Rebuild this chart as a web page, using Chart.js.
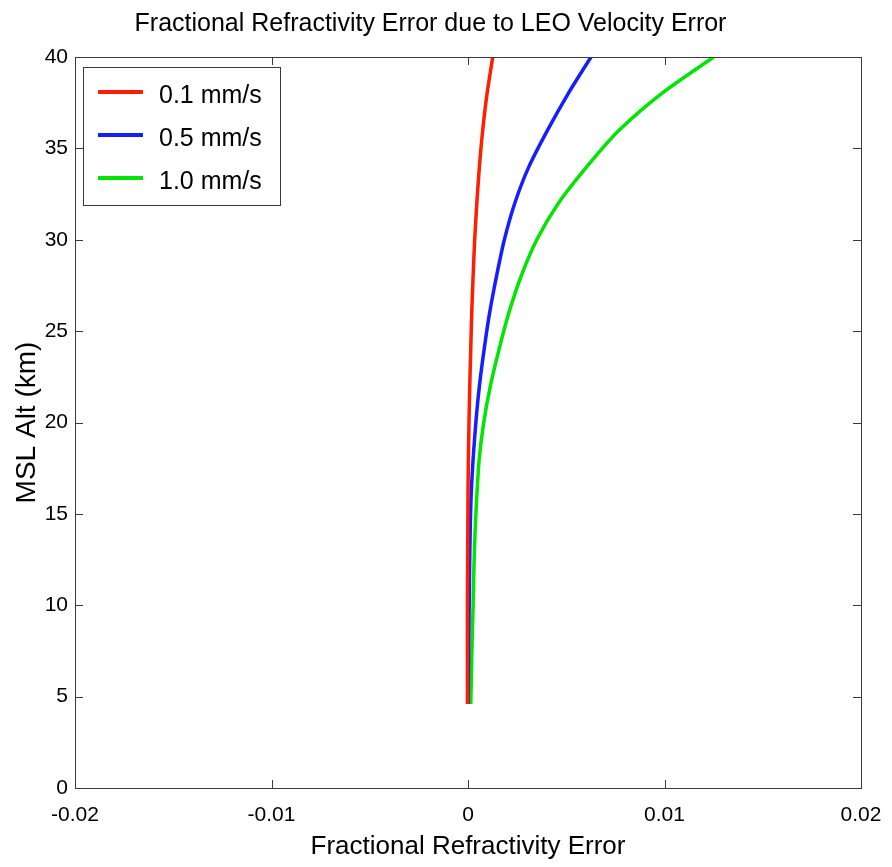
<!DOCTYPE html>
<html>
<head>
<meta charset="utf-8">
<script src="https://cdn.jsdelivr.net/npm/chart.js@4.4.1/dist/chart.umd.min.js"></script>
<style>
  body { margin: 0; background: #fff; }
  #myChart { display: block; }
</style>
</head>
<body>
<canvas id="myChart" width="892" height="867"></canvas>
<script>
//Chart Data
var altitudes = [4.6, 6, 8, 10, 12, 14, 16, 18, 20, 22, 24, 26, 28, 30, 32, 34, 36, 38, 40];
var err01 = [-0.00003, -0.00003, -0.00003, -0.00003, -0.00002, -0.00001, 0.00000, 0.00002, 0.00005, 0.00009, 0.00014, 0.00019, 0.00026, 0.00034, 0.00045, 0.00058, 0.00075, 0.00097, 0.00126];
var err05 = [0.00000, 0.00002, 0.00004, 0.00006, 0.00008, 0.00011, 0.00016, 0.00026, 0.00040, 0.00058, 0.00082, 0.00110, 0.00145, 0.00185, 0.00238, 0.00310, 0.00405, 0.00510, 0.00626];
var err10 = [0.00014, 0.00017, 0.00021, 0.00026, 0.00030, 0.00036, 0.00045, 0.00057, 0.00080, 0.00114, 0.00158, 0.00208, 0.00270, 0.00350, 0.00460, 0.00605, 0.00770, 0.00985, 0.01250];
var seriesLabels = ['0.1 mm/s', '0.5 mm/s', '1.0 mm/s'];
var seriesColors = ['rgb(255,30,0)', 'rgb(20,30,255)', 'rgb(0,230,0)'];

var sans = "'Liberation Sans', Arial, sans-serif";

//Build points from the arrays
function toPoints(vals) {
    return vals.map(function (v, i) { return { x: v, y: altitudes[i] }; });
}

//Draw box round the axes with inward ticks, like matlab
var frameTicks = {
    id: 'frameTicks',
    afterDraw(chart) {
        const ctx = chart.ctx;
        const a = chart.chartArea;
        const xs = chart.scales.x, ys = chart.scales.y;
        ctx.save();
        ctx.strokeStyle = '#3a3a3a';
        ctx.lineWidth = 1;
        ctx.strokeRect(Math.round(a.left) + 0.5, Math.round(a.top) + 0.5, Math.round(a.right - a.left), Math.round(a.bottom - a.top));
        ctx.beginPath();
        xs.ticks.forEach(function (t) {
            var px = Math.round(xs.getPixelForValue(t.value)) + 0.5;
            ctx.moveTo(px, a.bottom); ctx.lineTo(px, a.bottom - 8);
            ctx.moveTo(px, a.top); ctx.lineTo(px, a.top + 8);
        });
        ys.ticks.forEach(function (t) {
            var py = Math.round(ys.getPixelForValue(t.value)) + 0.5;
            ctx.moveTo(a.left, py); ctx.lineTo(a.left + 8, py);
            ctx.moveTo(a.right, py); ctx.lineTo(a.right - 8, py);
        });
        ctx.stroke();
        ctx.restore();
    }
};

//Legend box in the top left corner
var boxLegend = {
    id: 'boxLegend',
    afterDraw(chart) {
        const ctx = chart.ctx;
        const a = chart.chartArea;
        var bx = Math.round(a.left) + 8, by = Math.round(a.top) + 10;
        ctx.save();
        ctx.fillStyle = '#fff';
        ctx.fillRect(bx, by, 197, 138);
        ctx.strokeStyle = '#3a3a3a';
        ctx.lineWidth = 1;
        ctx.strokeRect(bx + 0.5, by + 0.5, 197, 138);
        chart.data.datasets.forEach(function (ds, i) {
            var ry = by + 25 + i * 43;
            ctx.strokeStyle = ds.borderColor;
            ctx.lineWidth = 4;
            ctx.beginPath();
            ctx.moveTo(bx + 15, ry); ctx.lineTo(bx + 60, ry);
            ctx.stroke();
            ctx.fillStyle = '#000';
            ctx.font = "25px " + sans;
            ctx.textBaseline = 'middle';
            ctx.textAlign = 'left';
            ctx.fillText(ds.label, bx + 76, ry + 4);
        });
        ctx.restore();
    }
};

const ctx = document.getElementById('myChart');
const myChart = new Chart(ctx, {
    type: 'scatter',
    data: {
        datasets: [{
            label: seriesLabels[0],
            borderColor: seriesColors[0],
            data: toPoints(err01)
        }, {
            label: seriesLabels[1],
            borderColor: seriesColors[1],
            data: toPoints(err05)
        }, {
            label: seriesLabels[2],
            borderColor: seriesColors[2],
            data: toPoints(err10)
        }]
    },
    options: {
        responsive: false,
        animation: false,
        layout: { padding: { left: 0, right: 31, top: 0, bottom: 0 } },
        datasets: {
            scatter: { showLine: true, pointRadius: 0, borderWidth: 3.5, tension: 0.25 }
        },
        plugins: {
            legend: { display: false },
            tooltip: { enabled: false },
            title: {
                display: true,
                text: 'Fractional Refractivity Error due to LEO Velocity Error',
                color: '#000',
                font: { family: sans, size: 25, weight: 'normal' },
                padding: { top: 9, bottom: 18 }
            }
        },
        scales: {
            x: {
                type: 'linear',
                min: -0.02,
                max: 0.02,
                grid: { display: false, drawTicks: false },
                border: { display: false },
                ticks: {
                    stepSize: 0.01,
                    color: '#000',
                    padding: 15,
                    font: { family: sans, size: 21 },
                    callback: function (v) { return String(Math.round(v * 100) / 100); }
                },
                title: {
                    display: true,
                    text: 'Fractional Refractivity Error',
                    color: '#000',
                    font: { family: sans, size: 26 },
                    padding: { top: 0, bottom: 5 }
                },
                afterFit(scale) {
                    scale.height = 79;
                    scale.paddingLeft = 0;
                    scale.paddingRight = 0;
                }
            },
            y: {
                type: 'linear',
                min: 0,
                max: 40,
                grid: { display: false, drawTicks: false },
                border: { display: false },
                ticks: {
                    stepSize: 5,
                    color: '#000',
                    padding: 7,
                    font: { family: sans, size: 21 }
                },
                title: {
                    display: true,
                    text: 'MSL Alt (km)',
                    color: '#000',
                    font: { family: sans, size: 28 },
                    padding: { top: 10, bottom: 0 }
                },
                afterFit(scale) { scale.width = 75; }
            }
        }
    },
    plugins: [frameTicks, boxLegend]
});
</script>
</body>
</html>
